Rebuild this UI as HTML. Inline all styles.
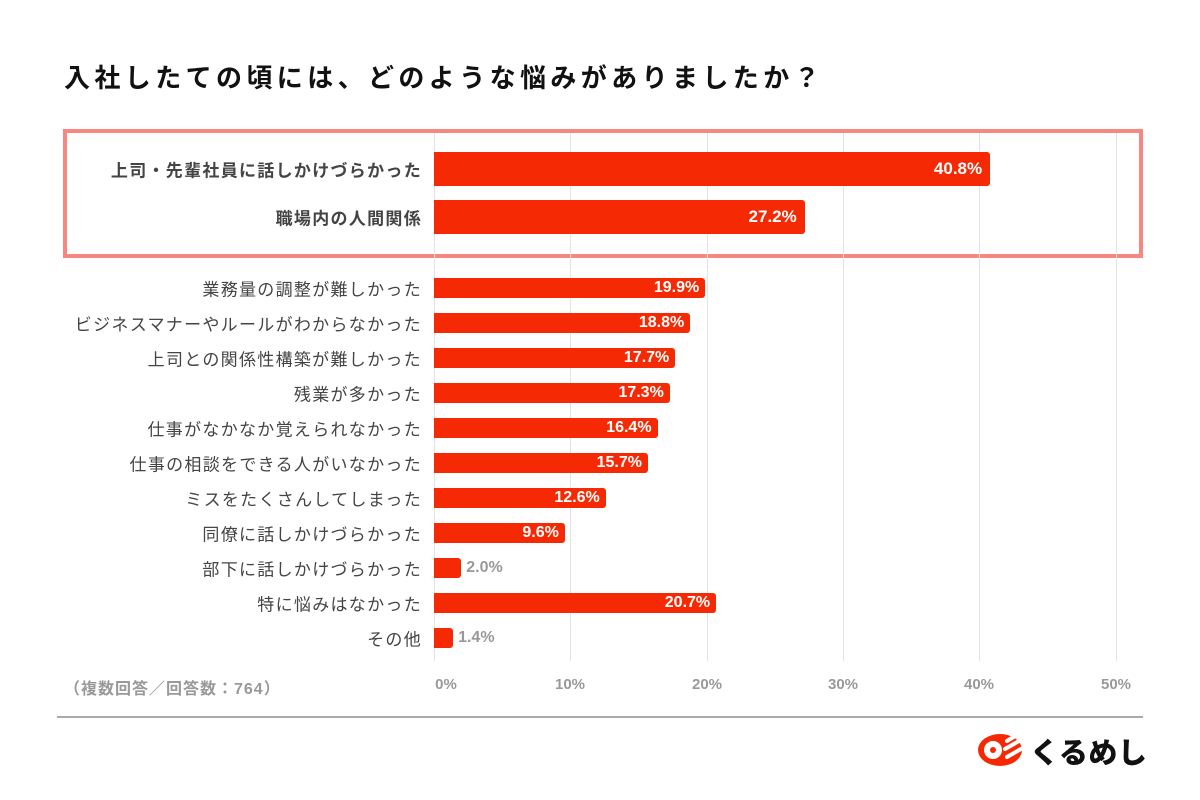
<!DOCTYPE html>
<html><head><meta charset="utf-8"><style>
body{margin:0;width:1200px;height:800px;background:#fff;position:relative;overflow:hidden;font-family:"Liberation Sans","Noto Sans CJK JP",sans-serif;}
.t{position:absolute;left:64px;top:58px;font-size:26px;font-weight:bold;letter-spacing:4.4px;color:#111;white-space:nowrap}
.box{position:absolute;left:63px;top:129px;width:1072px;height:121px;border:4px solid #f7877f}
.g{position:absolute;top:133px;width:1px;height:528px;background:#e2e2ea}
.lab{position:absolute;right:778px;font-size:17px;letter-spacing:1.3px;color:#444;white-space:nowrap;transform:translateY(-50%)}
.lab.b{font-weight:bold}
.bar{position:absolute;left:434px;background:#f52a05;border-radius:0 3px 3px 0;transform:translateY(-50%)}
.v{position:absolute;font-size:16px;font-weight:bold;color:#fff;transform:translateY(-50%);white-space:nowrap;text-align:right}
.vo{color:#999}
.ax{position:absolute;top:676px;font-size:15px;font-weight:bold;color:#999;transform:translateX(-50%)}
</style></head><body>
<div class="t">入社したての頃には、どのような悩みがありましたか？</div>
<div class="box"></div>
<div class="g" style="left:434px"></div><div class="g" style="left:570px"></div><div class="g" style="left:707px"></div><div class="g" style="left:843px"></div><div class="g" style="left:979px"></div><div class="g" style="left:1116px"></div>
<div id="c"></div>
<div class="ax" style="left:446px">0%</div><div class="ax" style="left:570px">10%</div><div class="ax" style="left:707px">20%</div><div class="ax" style="left:843px">30%</div><div class="ax" style="left:979px">40%</div><div class="ax" style="left:1116px">50%</div>
<div style="position:absolute;left:64px;top:675px;font-size:16px;font-weight:bold;color:#999;letter-spacing:1px">（複数回答／回答数：764）</div>
<div style="position:absolute;left:57px;top:716px;width:1086px;height:2px;background:#aaa"></div>
<svg style="position:absolute;left:977px;top:733px" width="46" height="34" viewBox="0 0 46 34"><ellipse cx="23" cy="17" rx="22" ry="16" fill="#f52a05"/><circle cx="16" cy="17" r="9" fill="#fff"/><circle cx="16" cy="17" r="3" fill="#f52a05"/><path d="M30 8 L40 2 M28 16 L42 8 M30 24 L44 16" stroke="#fff" stroke-width="4" stroke-linecap="round"/></svg>
<div style="position:absolute;left:1030px;top:730px;font-size:29px;font-weight:900;color:#111;letter-spacing:0.5px">くるめし</div>
<script>
var d=[["上司・先輩社員に話しかけづらかった",40.8,169,34,1],["職場内の人間関係",27.2,217,34,1],["業務量の調整が難しかった",19.9,288],["ビジネスマナーやルールがわからなかった",18.8,323],["上司との関係性構築が難しかった",17.7,358],["残業が多かった",17.3,393],["仕事がなかなか覚えられなかった",16.4,428],["仕事の相談をできる人がいなかった",15.7,463],["ミスをたくさんしてしまった",12.6,498],["同僚に話しかけづらかった",9.6,533],["部下に話しかけづらかった",2.0,568],["特に悩みはなかった",20.7,603],["その他",1.4,638]];
var h="",s=13.63;
d.forEach(function(r){var w=r[1]*s,H=r[3]||20,big=r[4];
h+='<div class="lab'+(big?' b':'')+'" style="top:'+r[2]+'px">'+r[0]+'</div>';
h+='<div class="bar" style="top:'+r[2]+'px;width:'+w+'px;height:'+H+'px"></div>';
var txt=r[1].toFixed(1)+'%';
if(r[1]<5)h+='<div class="v vo" style="top:'+r[2]+'px;left:'+(434+w+5)+'px">'+txt+'</div>';
else h+='<div class="v" style="top:'+r[2]+'px;right:'+(1200-434-w+(big?8:6))+'px;font-size:'+(big?17:16)+'px">'+txt+'</div>';});
document.getElementById('c').innerHTML=h;
</script>
</body></html>
